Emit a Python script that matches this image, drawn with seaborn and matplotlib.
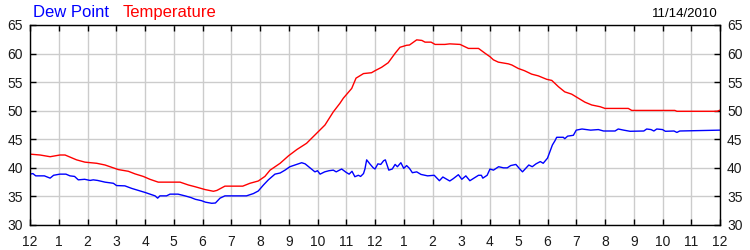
import matplotlib
matplotlib.use("Agg")
import matplotlib.pyplot as plt
import seaborn as sns
import pandas as pd

temp_hours = [0.0, 0.35, 0.7, 1.04, 1.22, 1.62, 1.91, 2.32, 2.61, 3.07, 3.42, 3.65, 3.94, 4.17,
              4.46, 5.22, 5.51, 5.74, 6.09, 6.38, 6.5, 6.78, 7.4, 7.65, 7.94, 8.17, 8.35, 8.7,
              8.99, 9.28, 9.62, 9.91, 10.26, 10.55, 10.78, 10.9, 11.19, 11.34, 11.6, 11.88,
              12.0, 12.23, 12.46, 12.7, 12.87, 13.1, 13.2, 13.45, 13.63, 13.74, 13.95, 14.09,
              14.43, 14.6, 14.96, 15.25, 15.6, 15.83, 16.0, 16.12, 16.29, 16.64, 16.76, 16.98,
              17.2, 17.45, 17.68, 17.97, 18.15, 18.38, 18.6, 18.84, 19.07, 19.3, 19.54, 19.83,
              20.0, 20.81, 20.93, 22.43, 22.5, 23.9, 24.0]
temp_values = [42.4, 42.25, 41.95, 42.25, 42.25, 41.4, 41.0, 40.8, 40.5, 39.7, 39.4, 38.95, 38.5, 38.0,
               37.5, 37.5, 37.0, 36.7, 36.2, 35.9, 36.05, 36.8, 36.8, 37.3, 37.7, 38.5, 39.6, 40.8,
               42.1, 43.2, 44.3, 45.75, 47.5, 49.8, 51.3, 52.2, 53.9, 55.7, 56.5, 56.65,
               57.0, 57.6, 58.4, 60.05, 61.1, 61.45, 61.5, 62.4, 62.3, 62.0, 62.0, 61.6,
               61.6, 61.7, 61.6, 60.9, 60.9, 60.05, 59.45, 58.9, 58.5, 58.2, 58.0, 57.4,
               57.0, 56.4, 56.1, 55.5, 55.3, 54.2, 53.3, 52.9, 52.2, 51.5, 51.0, 50.7,
               50.4, 50.4, 50.05, 50.05, 49.9, 49.9, 50.1]

dew_hours = [0.0, 0.1, 0.2, 0.5, 0.7, 0.82, 1.04, 1.25, 1.39, 1.55, 1.68, 1.9, 2.09, 2.2, 2.35,
             2.61, 2.9, 3.01, 3.3, 3.54, 3.83, 4.0, 4.17, 4.35, 4.44, 4.52, 4.75, 4.87, 5.15,
             5.39, 5.6, 5.75, 5.97, 6.1, 6.32, 6.45, 6.61, 6.78, 7.53, 7.77, 7.94, 8.12, 8.29,
             8.52, 8.7, 8.87, 9.04, 9.22, 9.45, 9.57, 9.74, 9.91, 10.0, 10.09, 10.25, 10.4,
             10.55, 10.65, 10.84, 11.0, 11.1, 11.2, 11.3, 11.42, 11.5, 11.6, 11.65, 11.71,
             11.82, 11.94, 12.0, 12.1, 12.2, 12.3, 12.36, 12.48, 12.6, 12.7, 12.78, 12.9,
             13.0, 13.1, 13.2, 13.3, 13.45, 13.6, 13.83, 14.06, 14.24, 14.36, 14.6, 14.72,
             14.9, 15.02, 15.16, 15.3, 15.6, 15.7, 15.75, 15.9, 16.0, 16.12, 16.3, 16.47,
             16.6, 16.72, 16.9, 17.02, 17.13, 17.35, 17.47, 17.6, 17.75, 17.85, 18.0, 18.17,
             18.26, 18.32, 18.55, 18.6, 18.7, 18.9, 19.0, 19.2, 19.5, 19.77, 19.95, 20.35,
             20.46, 20.65, 20.87, 21.35, 21.45, 21.6, 21.7, 21.8, 22.0, 22.1, 22.4, 22.5,
             22.6, 24.0]
dew_values = [38.9, 39.0, 38.6, 38.6, 38.2, 38.7, 38.9, 38.9, 38.6, 38.5, 37.9, 38.0, 37.8, 37.9, 37.8,
              37.5, 37.3, 36.9, 36.85, 36.4, 35.95, 35.7, 35.4, 35.1, 34.7, 35.1, 35.1, 35.4, 35.4,
              35.1, 34.8, 34.5, 34.25, 34.0, 33.8, 33.85, 34.7, 35.1, 35.1, 35.5, 35.95, 37.0, 37.9,
              38.9, 39.1, 39.6, 40.2, 40.5, 40.9, 40.7, 40.0, 39.3, 39.5, 38.9, 39.3, 39.5,
              39.6, 39.3, 39.8, 39.2, 38.9, 39.4, 38.45, 38.7, 38.5, 39.0, 39.8, 41.4,
              40.7, 40.0, 39.8, 40.7, 40.6, 41.25, 41.4, 39.6, 39.8, 40.6, 40.2, 40.9,
              39.9, 40.4, 39.9, 39.15, 39.3, 38.85, 38.6, 38.7, 37.75, 38.4, 37.7, 38.1,
              38.8, 38.0, 38.6, 37.75, 38.7, 38.7, 38.2, 38.7, 39.8, 39.6, 40.2, 40.0,
              40.0, 40.4, 40.6, 39.9, 39.3, 40.5, 40.2, 40.7, 41.1, 40.8, 41.7, 44.0,
              44.75, 45.35, 45.35, 45.1, 45.55, 45.7, 46.6, 46.8, 46.6, 46.7, 46.45, 46.45,
              46.8, 46.6, 46.4, 46.45, 46.8, 46.7, 46.45, 46.8, 46.7, 46.4, 46.45, 46.2,
              46.45, 46.6]

x_tick_labels = ["12", "1", "2", "3", "4", "5", "6", "7", "8", "9", "10", "11",
                 "12", "1", "2", "3", "4", "5", "6", "7", "8", "9", "10", "11", "12"]
y_ticks = [30, 35, 40, 45, 50, 55, 60, 65]
date_label = "11/14/2010"

sns.set_style("white")
plt.rcParams["font.family"] = ["Liberation Sans", "DejaVu Sans"]

df_t = pd.DataFrame({"hour": temp_hours, "value": temp_values, "series": "Temperature"})
df_d = pd.DataFrame({"hour": dew_hours, "value": dew_values, "series": "Dew Point"})
df = pd.concat([df_d, df_t], ignore_index=True)

fig = plt.figure(figsize=(7.5, 2.5), dpi=100)
ax = fig.add_axes([30 / 750, 25 / 250, 690 / 750, 200 / 250])

sns.lineplot(data=df, x="hour", y="value", hue="series",
             palette={"Dew Point": "#0000ff", "Temperature": "#ff0000"},
             linewidth=1.0, legend=False, ax=ax, estimator=None, sort=False)

ax.set_xlim(0, 24)
ax.set_ylim(30, 65)
ax.set_xticks(range(25))
ax.set_xticklabels(x_tick_labels)
ax.set_yticks(y_ticks)
ax.set_xlabel("")
ax.set_ylabel("")
ax.grid(True, color="#cccccc", linewidth=1.0)
ax.set_axisbelow(True)
for s in ax.spines.values():
    s.set_color("black")
    s.set_linewidth(1.0)
ax.tick_params(axis="both", direction="in", length=4, width=1, color="black",
               labelsize=10, labelcolor="#1a1a1a", top=True, right=True, left=True, bottom=True,
               labelright=True, labelleft=True)
ax.tick_params(axis="x", pad=7)
ax.tick_params(axis="y", pad=5)

fig.text(33 / 750, 1 - 17 / 250, "Dew Point", color="#0000ff", fontsize=12, ha="left", va="baseline")
fig.text(123 / 750, 1 - 17 / 250, "Temperature", color="#ff0000", fontsize=12, ha="left", va="baseline")
fig.text(718 / 750, 1 - 17 / 250, date_label, color="black", fontsize=9.5, ha="right", va="baseline")

fig.savefig("out.png", dpi=100)
